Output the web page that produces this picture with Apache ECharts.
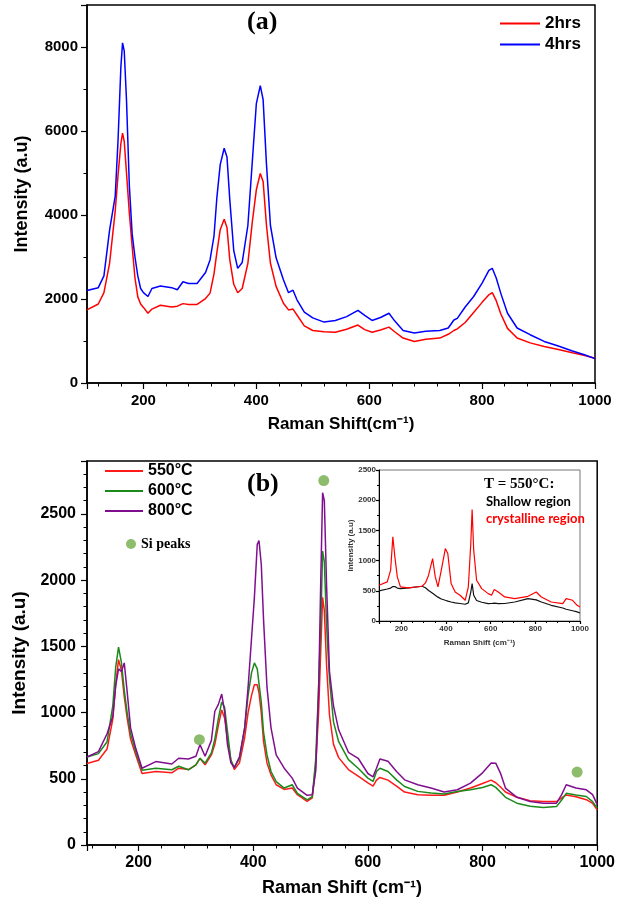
<!DOCTYPE html>
<html>
<head>
<meta charset="utf-8">
<script src="https://cdn.jsdelivr.net/npm/echarts@6/dist/echarts.min.js"></script>
<style>
  html, body { margin: 0; padding: 0; background: #fff; }
  #chart { width: 618px; height: 905px; }
</style>
</head>
<body>
<div id="chart"></div>
<script>
// ---- panel (a): annealing time ----
var shiftA = [100,120,130,140,150,155,160,163,166,170,175,180,185,190,195,200,208,215,230,250,
  260,270,280,295,310,318,325,330,336,343,348,353,360,367,375,385,393,400,407,412,
  418,425,435,448,457,465,472,485,500,520,540,560,580,592,605,620,635,645,660,680,
  700,725,740,750,756,770,785,800,812,818,825,833,845,862,885,910,935,960,980,1000];
var hrs2 = [1740,1880,2150,2850,4100,4950,5700,5950,5750,5000,4050,3250,2500,2050,1880,1800,1660,1760,1850,1810,
  1830,1890,1870,1870,2010,2140,2600,3100,3650,3900,3700,2930,2350,2150,2250,2850,3850,4600,4990,4800,
  3750,2850,2300,1900,1740,1760,1620,1360,1250,1220,1210,1280,1380,1270,1210,1260,1330,1220,1070,990,
  1040,1070,1160,1250,1290,1440,1680,1920,2100,2150,1960,1650,1300,1070,955,870,800,720,660,590];
var hrs4 = [2200,2270,2550,3640,4450,5780,7520,8100,7900,6730,4700,3550,3000,2550,2250,2150,2060,2250,2310,2270,
  2220,2410,2370,2370,2630,2930,3500,4400,5200,5590,5380,4360,3150,2730,2870,3750,5300,6650,7080,6750,
  5200,3750,2980,2460,2150,2210,1980,1690,1550,1450,1490,1580,1730,1610,1490,1560,1660,1480,1250,1190,
  1230,1250,1310,1500,1540,1810,2060,2380,2680,2730,2500,2140,1660,1310,1150,990,880,760,680,580];

// ---- panel (b): annealing temperature ----
var shiftB = [110,130,145,155,160,165,170,175,180,186,195,206,230,258,270,287,300,307,316,327,
  333,339,345,350,355,361,367,376,385,391,397,402,407,410,414,418,424,431,440,454,
  468,477,494,503,509,514,518,521,524,528,533,540,549,566,583,600,609,615,621,635,
  650,664,687,710,733,756,779,800,815,823,831,840,860,883,906,929,938,946,963,981,992,1000];
var t550 = [615,640,725,950,1210,1400,1320,1120,960,800,680,540,555,545,580,570,605,655,605,680,
  760,900,1020,960,800,640,570,620,810,1000,1130,1210,1210,1150,1000,780,620,530,455,420,
  430,380,330,355,600,1000,1500,1870,1770,1350,980,760,660,570,520,470,445,490,510,490,
  445,400,380,375,375,400,430,465,490,470,440,400,360,335,328,328,355,378,365,342,315,265];
var t600 = [665,690,780,1050,1340,1495,1380,1170,1000,840,705,565,580,568,595,568,605,655,618,695,
  800,950,1080,1040,860,640,585,655,880,1130,1300,1375,1330,1220,1080,850,680,555,478,430,
  455,390,340,366,650,1200,1700,2220,2140,1650,1250,930,780,645,580,505,480,555,580,555,
  492,442,405,392,385,404,417,434,455,435,400,360,316,292,284,290,340,390,378,366,328,278];
var t800 = [665,705,840,970,1200,1330,1310,1375,1160,885,730,580,630,612,655,650,670,758,670,790,
  1010,1060,1140,1010,760,620,585,665,885,1190,1560,1870,2270,2300,2120,1700,1190,885,680,580,
  505,430,375,380,560,1150,2050,2660,2600,1950,1310,1050,870,700,655,540,515,580,650,632,
  555,492,455,430,400,417,467,545,620,618,545,430,360,328,316,316,380,455,430,417,380,305];
var siShift = [306, 523, 965];
var siMark = [795, 2752, 551];

// ---- inset: 550 C, two regions ----
var shiftIn = [100,137,152,162,171,182,196,233,293,308,322,340,352,364,379,397,408,423,441,463,
  486,500,511,517,524,537,560,589,604,616,634,663,708,767,804,827,871,923,938,967,987,1000];
var shallow = [498,530,545,570,570,545,536,548,575,550,505,460,426,395,365,343,330,315,299,290,
  277,300,480,619,426,340,310,288,290,295,288,290,315,371,350,315,260,215,195,170,150,133];
var crystal = [592,647,841,1394,1062,730,564,548,575,630,758,1034,730,564,841,1200,1117,619,481,426,
  343,564,1283,1847,1173,675,536,453,426,520,481,398,371,409,481,398,315,288,371,343,260,232];

function pairs(xs, ys) {
  return xs.map(function (x, i) { return [x, ys[i]]; });
}

var sans = 'Liberation Sans';
var black = '#000';

// only label the round steps, no thousands separator, no edge labels
function stepLabel(step) {
  return function (v) { return v % step === 0 ? String(v) : ''; };
}

function axisStyle(fs, margin, minorSplit, step) {
  return {
    axisLine: { lineStyle: { color: black, width: 1.5 } },
    axisTick: { length: 6, lineStyle: { color: black, width: 1.2 } },
    minorTick: { show: true, splitNumber: minorSplit, length: 3.5, lineStyle: { color: black, width: 1 } },
    splitLine: { show: false },
    axisLabel: { color: black, fontFamily: sans, fontWeight: 'bold', fontSize: fs, margin: margin,
      formatter: stepLabel(step) }
  };
}

function lineSeries(name, xi, xs, ys, color, w) {
  return {
    name: name,
    type: 'line',
    xAxisIndex: xi,
    yAxisIndex: xi,
    data: pairs(xs, ys),
    symbol: 'none',
    showSymbol: false,
    lineStyle: { color: color, width: w },
    itemStyle: { color: color },
    animation: false
  };
}

var xa = axisStyle(15, 10, 5, 200);
var ya = axisStyle(15, 9, 2, 2000);
var xb = axisStyle(16, 10, 5, 200);
var yb = axisStyle(16, 11, 5, 500);
var xi = axisStyle(8, 4, 4, 200);
var yi = axisStyle(8, 3, 2, 500);
xi.axisTick.length = 3; xi.minorTick.length = 2;
yi.axisTick.length = 3; yi.minorTick.length = 2;
xi.axisLine.lineStyle.width = 1; yi.axisLine.lineStyle.width = 1;
xi.axisLabel.color = '#333'; yi.axisLabel.color = '#333';

var myChart = echarts.init(document.getElementById('chart'));
var option = {
  backgroundColor: '#fff',
  animation: false,
  title: [
    { text: '(a)', left: 247, top: 9, padding: 0,
      textStyle: { fontFamily: 'Liberation Serif', fontWeight: 'bold', fontSize: 26, color: black } },
    { text: '(b)', left: 247, top: 471, padding: 0,
      textStyle: { fontFamily: 'Liberation Serif', fontWeight: 'bold', fontSize: 26, color: black } }
  ],
  legend: [
    { data: ['2hrs', '4hrs'], orient: 'vertical', left: 500, top: 15, padding: 0, itemGap: 4,
      icon: 'rect', itemWidth: 40, itemHeight: 2,
      textStyle: { fontFamily: sans, fontWeight: 'bold', fontSize: 17, color: black } },
    { data: ['550°C', '600°C', '800°C'], orient: 'vertical', left: 105, top: 463, padding: 0, itemGap: 4,
      icon: 'rect', itemWidth: 38, itemHeight: 2,
      textStyle: { fontFamily: sans, fontWeight: 'bold', fontSize: 16, color: black } },
    { data: ['Si peaks'], left: 126, top: 537, padding: 0, icon: 'circle', itemWidth: 10, itemHeight: 10,
      textStyle: { fontFamily: 'Liberation Serif', fontWeight: 'bold', fontSize: 14, color: black } }
  ],
  grid: [
    { left: 87, top: 5, width: 508, height: 378, show: true, borderColor: black, borderWidth: 1.5 },
    { left: 87, top: 461, width: 514, height: 384, show: true, borderColor: black, borderWidth: 1.5 },
    { left: 379, top: 470, width: 201, height: 151, show: true, borderColor: '#777', borderWidth: 1,
      backgroundColor: '#fff' }
  ],
  xAxis: [
    Object.assign({ gridIndex: 0, type: 'value', min: 100, max: 1000,
      name: 'Raman Shift(cm⁻¹)', nameLocation: 'middle', nameGap: 33,
      nameTextStyle: { fontFamily: sans, fontWeight: 'bold', fontSize: 17, color: black } }, xa),
    Object.assign({ gridIndex: 1, type: 'value', min: 110, max: 1000,
      name: 'Raman Shift (cm⁻¹)', nameLocation: 'middle', nameGap: 34,
      nameTextStyle: { fontFamily: sans, fontWeight: 'bold', fontSize: 18, color: black } }, xb),
    Object.assign({ gridIndex: 2, type: 'value', min: 100, max: 1000,
      name: 'Raman Shift (cm⁻¹)', nameLocation: 'middle', nameGap: 18,
      nameTextStyle: { fontFamily: sans, fontWeight: 'bold', fontSize: 8, color: '#333' } }, xi)
  ],
  yAxis: [
    Object.assign({ gridIndex: 0, type: 'value', min: 0, max: 9000, interval: 2000,
      name: 'Intensity (a.u)', nameLocation: 'middle', nameGap: 56,
      nameTextStyle: { fontFamily: sans, fontWeight: 'bold', fontSize: 18, color: black } }, ya),
    Object.assign({ gridIndex: 1, type: 'value', min: 0, max: 2900, interval: 500,
      name: 'Intensity (a.u)', nameLocation: 'middle', nameGap: 56,
      nameTextStyle: { fontFamily: sans, fontWeight: 'bold', fontSize: 19, color: black } }, yb),
    Object.assign({ gridIndex: 2, type: 'value', min: 0, max: 2500, interval: 500,
      name: 'Intensity (a.u)', nameLocation: 'middle', nameGap: 24,
      nameTextStyle: { fontFamily: sans, fontWeight: 'bold', fontSize: 8, color: '#333' } }, yi)
  ],
  graphic: [
    { type: 'text', left: 484, top: 477,
      style: { text: 'T = 550°C:', fontFamily: 'Liberation Serif', fontWeight: 'bold', fontSize: 15, fill: black } },
    { type: 'text', left: 486, top: 495,
      style: { text: 'Shallow region', fontFamily: 'Lato', fontWeight: 'bold', fontSize: 13, fill: black } },
    { type: 'text', left: 486, top: 512,
      style: { text: 'crystalline region', fontFamily: 'Lato', fontWeight: 'bold', fontSize: 13, fill: '#ff0000' } }
  ],
  series: [
    lineSeries('2hrs', 0, shiftA, hrs2, '#ff0000', 1.5),
    lineSeries('4hrs', 0, shiftA, hrs4, '#0000ff', 1.5),
    lineSeries('550°C', 1, shiftB, t550, '#ff1a1a', 1.5),
    lineSeries('600°C', 1, shiftB, t600, '#1a8a1a', 1.5),
    lineSeries('800°C', 1, shiftB, t800, '#800f8f', 1.5),
    {
      name: 'Si peaks',
      type: 'scatter',
      xAxisIndex: 1,
      yAxisIndex: 1,
      data: pairs(siShift, siMark),
      symbolSize: 11,
      itemStyle: { color: '#70ad47' },
      z: 5
    },
    lineSeries('Shallow region', 2, shiftIn, shallow, '#111', 1.2),
    lineSeries('crystalline region', 2, shiftIn, crystal, '#ff0000', 1.2)
  ]
};
myChart.setOption(option);
</script>
</body>
</html>
